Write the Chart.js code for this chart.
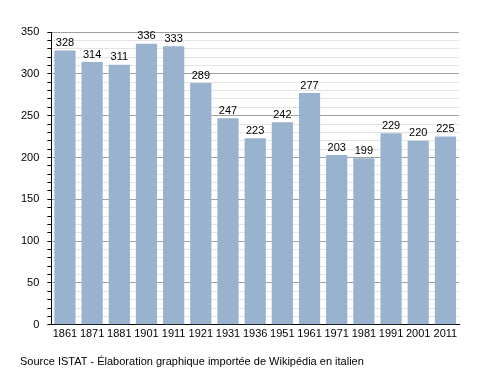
<!DOCTYPE html>
<html>
<head>
<meta charset="utf-8">
<script src="https://cdn.jsdelivr.net/npm/chart.js@4/dist/chart.umd.min.js"></script>
<style>
  body { margin: 0; background: #fff; }
  #wrap { width: 488px; height: 373px; position: relative; }
</style>
</head>
<body>
<div id="wrap"><canvas id="chart" width="488" height="373"></canvas></div>
<script>
const years = ["1861", "1871", "1881", "1901", "1911", "1921", "1931", "1936", "1951", "1961", "1971", "1981", "1991", "2001", "2011"];
const population = [328, 314, 311, 336, 333, 289, 247, 223, 242, 277, 203, 199, 229, 220, 225];
const sourceText = "Source ISTAT - Élaboration graphique importée de Wikipédia en italien";

// draws the numbers over the bars and the source line
const labelPlugin = {
  id: "labels",
  afterDatasetsDraw(chart) {
    const ctx = chart.ctx;
    const meta = chart.getDatasetMeta(0);
    ctx.save();
    ctx.font = "11px 'Liberation Sans', Arial, sans-serif";
    ctx.fillStyle = "#000";
    ctx.textAlign = "center";
    ctx.textBaseline = "bottom";
    meta.data.forEach((bar, i) => {
      ctx.fillText(population[i], bar.x, bar.y - 2);
    });
    ctx.textAlign = "left";
    ctx.textBaseline = "middle";
    ctx.fillText(sourceText, 20, 362);
    ctx.restore();
  }
};

new Chart(document.getElementById("chart"), {
  type: "bar",
  data: {
    labels: years,
    datasets: [{
      data: population,
      backgroundColor: "#98b2cf",
      categoryPercentage: 0.78,
      barPercentage: 1
    }]
  },
  options: {
    responsive: false,
    animation: false,
    layout: { padding: { left: 13, right: 29, top: 32, bottom: 29 } },
    plugins: { legend: { display: false }, tooltip: { enabled: false } },
    scales: {
      x: {
        grid: { display: false, drawTicks: false, tickLength: 0 },
        border: { color: "#000", width: 1 },
        ticks: {
          color: "#000",
          font: { size: 11, family: "'Liberation Sans', Arial, sans-serif" },
          maxRotation: 0,
          autoSkip: false,
          padding: 3
        }
      },
      y: {
        min: 0,
        max: 350,
        border: { color: "#000", width: 1 },
        grid: {
          color: (c) => (c.tick && c.tick.value % 50 === 0 ? "#a0a0a0" : "#e4e4e4"),
          tickColor: "#000",
          tickLength: 4
        },
        ticks: {
          stepSize: 10,
          autoSkip: false,
          color: "#000",
          font: { size: 11, family: "'Liberation Sans', Arial, sans-serif" },
          padding: 8,
          callback: (v) => (v % 50 === 0 ? v : "")
        }
      }
    }
  },
  plugins: [labelPlugin]
});
</script>
</body>
</html>
